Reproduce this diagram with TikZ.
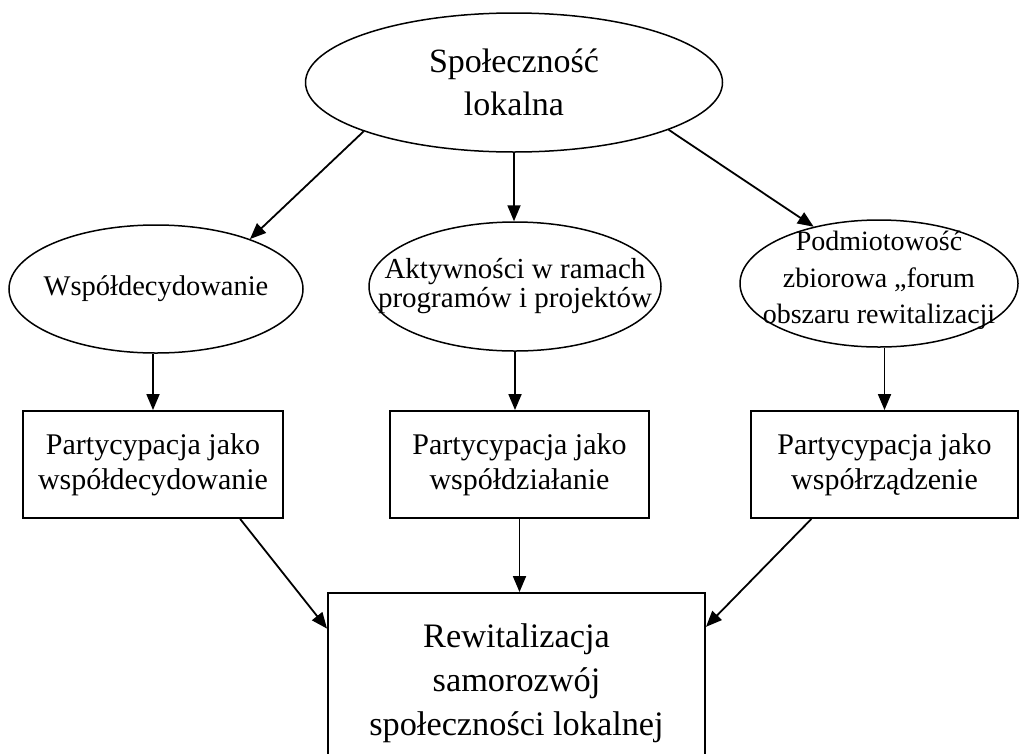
\documentclass[tikz,border=0pt]{standalone}
\usepackage{fontspec}
\setmainfont{Liberation Serif}
\usetikzlibrary{shapes.geometric,arrows.meta,calc}
\begin{document}
\begin{tikzpicture}[x=1pt,y=-1pt,
  ell/.style={ellipse,draw,line width=1.5pt,inner xsep=-150pt,inner ysep=-60pt,align=center},
  box/.style={rectangle,draw,line width=1.9pt,inner sep=0pt,align=center},
  arr/.style={line width=1.8pt,-{Triangle[length=16pt,width=13pt]}}]
\useasboundingbox (0,0) rectangle (1019,753);
\clip (0,0) rectangle (1019,753);
\node[ell,minimum width=417pt,minimum height=139pt,font=\fontsize{34}{43}\selectfont] (top) at (514,82.5) {Społeczność\\lokalna};
\node[ell,minimum width=294pt,minimum height=128pt,font=\fontsize{28.5}{29}\selectfont] (w1) at (156,289) {Współdecydowanie};
\node[ell,minimum width=292pt,minimum height=129pt,font=\fontsize{29}{29}\selectfont] (w2) at (515,286.5) {Aktywności w ramach\\programów i projektów};
\node[ell,minimum width=278pt,minimum height=127pt,font=\fontsize{28}{36.5}\selectfont] (w3) at (879,283.5) {Podmiotowość\\zbiorowa „forum\\obszaru rewitalizacji\rule[-12pt]{0pt}{0pt}};
\node[box,minimum width=260pt,minimum height=107pt,font=\fontsize{30}{35}\selectfont] (b1) at (153,464.5) {Partycypacja jako\\współdecydowanie};
\node[box,minimum width=259pt,minimum height=107pt,font=\fontsize{30}{35}\selectfont] (b2) at (519.5,464.5) {Partycypacja jako\\współdziałanie};
\node[box,minimum width=267pt,minimum height=107pt,font=\fontsize{30}{35}\selectfont] (b3) at (884.5,464.5) {Partycypacja jako\\współrządzenie};
\node[box,minimum width=377pt,minimum height=181pt,font=\fontsize{34.3}{44}\selectfont] (fin) at (516.5,683.5) {Rewitalizacja\\samorozwój\\społeczności lokalnej};
\draw[arr] (top.198.7) -- (w1.28.6);
\draw[arr] (top.south) -- (top.south |- w2.north);
\draw[arr] (top.343.2) -- (w3.139.6);
\draw[arr] (b1.north |- w1.south) -- (b1.north);
\draw[arr] (w2.south) -- (w2.south |- b2.north);
\draw[arr] (b3.north |- w3.south) -- (b3.north);
\draw[arr] (b1.-32.5) -- ($(fin.north west)!0.2!(fin.south west)$);
\draw[arr] (b2.south) -- (b2.south |- fin.north);
\draw[arr] ($(b3.south west)!0.228!(b3.south east)$) -- ($(fin.north east)!0.19!(fin.south east)$);
\end{tikzpicture}
\end{document}
